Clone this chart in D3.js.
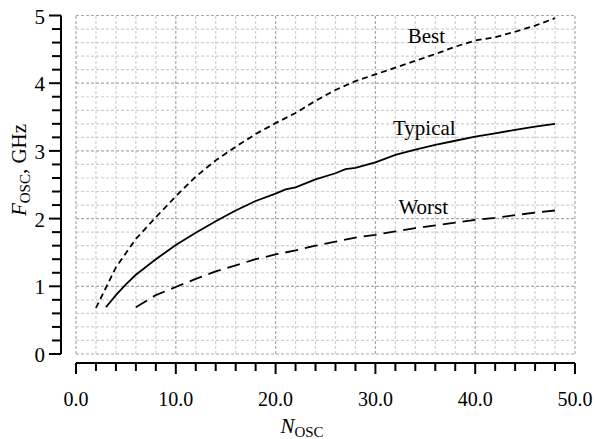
<!DOCTYPE html>
<html>
  <head>
    <script src="https://d3js.org/d3.v7.min.js"></script>
    <style>
      body { margin: 0; background: #fff; }
      text { font-family: "Liberation Serif", "DejaVu Serif", serif; fill: #000; }
    </style>
  </head>
  <body>
    <script>
      // N_osc values and F_osc (GHz)
      const bestN = [2, 4, 6, 8, 10, 12, 14, 16, 18, 20, 22, 24, 26, 28, 30, 32, 34, 36, 38, 40, 42, 44, 46, 48];
      const bestF = [0.68, 1.28, 1.70, 2.02, 2.33, 2.62, 2.86, 3.06, 3.25, 3.41, 3.56, 3.74, 3.90, 4.03, 4.13, 4.23, 4.33, 4.43, 4.54, 4.63, 4.68, 4.76, 4.85, 4.96];

      const typicalN = [3, 4, 5, 6, 8, 10, 12, 14, 16, 18, 20, 21, 22, 24, 26, 27, 28, 30, 32, 34, 36, 38, 40, 42, 44, 46, 48];
      const typicalF = [0.69, 0.87, 1.03, 1.17, 1.40, 1.61, 1.79, 1.96, 2.12, 2.26, 2.37, 2.43, 2.46, 2.58, 2.67, 2.73, 2.75, 2.83, 2.94, 3.02, 3.09, 3.15, 3.21, 3.26, 3.31, 3.36, 3.40];

      const worstN = [6, 8, 10, 12, 14, 16, 18, 20, 22, 24, 26, 28, 30, 32, 34, 36, 38, 40, 42, 44, 46, 48];
      const worstF = [0.69, 0.87, 0.99, 1.11, 1.22, 1.31, 1.40, 1.47, 1.53, 1.60, 1.66, 1.72, 1.76, 1.81, 1.86, 1.90, 1.94, 1.98, 2.01, 2.05, 2.09, 2.12];

      const xTicks = [0, 10, 20, 30, 40, 50];
      const yTicks = [0, 1, 2, 3, 4, 5];

      const seriesNames = ['Best', 'Typical', 'Worst'];
      const labelN = [35.1, 34.9, 34.8];
      const labelF = [4.6, 3.23, 2.07];

      const width = 595;
      const height = 439;

      const x = d3.scaleLinear().domain([0, 50]).range([76, 575]);
      const y = d3.scaleLinear().domain([0, 5]).range([354, 15.5]);

      const svg = d3.select('body')
        .append('svg')
        .attr('width', width)
        .attr('height', height);

      // grid: minor every 2 on x, every 0.2 on y
      const gx = d3.range(0, 50.001, 2);
      const gy = d3.range(0, 5.001, 0.2);

      svg.append('g').selectAll('line')
        .data(gx)
        .join('line')
        .attr('x1', d => x(d)).attr('x2', d => x(d))
        .attr('y1', y(0)).attr('y2', y(5))
        .attr('stroke', d => (Math.round(d) % 10 === 0) ? '#a8a8a8' : '#cfcfcf')
        .attr('stroke-width', 1.2)
        .attr('stroke-dasharray', '3,2');

      svg.append('g').selectAll('line')
        .data(gy)
        .join('line')
        .attr('x1', x(0)).attr('x2', x(50))
        .attr('y1', d => y(d)).attr('y2', d => y(d))
        .attr('stroke', d => (Math.abs(d - Math.round(d)) < 1e-6) ? '#a8a8a8' : '#cfcfcf')
        .attr('stroke-width', 1.2)
        .attr('stroke-dasharray', '3,2');

      // x axis (offset below plot)
      const xAxisY = 363;
      const xg = svg.append('g');
      xg.append('line')
        .attr('x1', x(0)).attr('x2', x(50))
        .attr('y1', xAxisY).attr('y2', xAxisY)
        .attr('stroke', '#000').attr('stroke-width', 2);
      xg.selectAll('.tk')
        .data(gx)
        .join('line')
        .attr('x1', d => x(d)).attr('x2', d => x(d))
        .attr('y1', xAxisY)
        .attr('y2', d => xAxisY + ((Math.round(d) % 10 === 0) ? 11 : 8))
        .attr('stroke', '#000').attr('stroke-width', 2);
      xg.selectAll('text')
        .data(xTicks)
        .join('text')
        .attr('x', d => x(d))
        .attr('y', 406)
        .attr('text-anchor', 'middle')
        .attr('font-size', 20)
        .text(d => d.toFixed(1));

      // y axis (offset left of plot)
      const yAxisX = 61;
      const yg = svg.append('g');
      yg.append('line')
        .attr('x1', yAxisX).attr('x2', yAxisX)
        .attr('y1', y(0)).attr('y2', y(5))
        .attr('stroke', '#000').attr('stroke-width', 2);
      yg.selectAll('.tk')
        .data(gy)
        .join('line')
        .attr('x1', yAxisX)
        .attr('x2', d => yAxisX - ((Math.abs(d - Math.round(d)) < 1e-6) ? 12 : 9))
        .attr('y1', d => y(d)).attr('y2', d => y(d))
        .attr('stroke', '#000').attr('stroke-width', 2);
      yg.selectAll('text')
        .data(yTicks)
        .join('text')
        .attr('x', 45)
        .attr('y', d => y(d) + 8)
        .attr('text-anchor', 'end')
        .attr('font-size', 21)
        .text(d => d);

      // axis titles
      const xt = svg.append('text')
        .attr('x', 302)
        .attr('y', 433)
        .attr('text-anchor', 'middle')
        .attr('font-size', 21);
      xt.append('tspan').attr('font-style', 'italic').text('N');
      xt.append('tspan').attr('font-size', 15).attr('dy', 4).text('OSC');

      const yt = svg.append('text')
        .attr('transform', 'translate(26,170) rotate(-90)')
        .attr('text-anchor', 'middle')
        .attr('font-size', 21);
      yt.append('tspan').attr('font-style', 'italic').text('F');
      yt.append('tspan').attr('font-size', 15).attr('dy', 4).text('OSC');
      yt.append('tspan').attr('dy', -4).text(', GHz');

      // curves
      const line = d3.line()
        .x(d => x(d[0]))
        .y(d => y(d[1]));

      const series = [
        { pts: d3.zip(bestN, bestF), dash: '6,4' },
        { pts: d3.zip(typicalN, typicalF), dash: null },
        { pts: d3.zip(worstN, worstF), dash: '13,7' }
      ];

      svg.append('g').selectAll('path')
        .data(series)
        .join('path')
        .attr('d', d => line(d.pts))
        .attr('fill', 'none')
        .attr('stroke', '#000')
        .attr('stroke-width', 1.8)
        .attr('stroke-dasharray', d => d.dash);

      svg.append('g').selectAll('text')
        .data(seriesNames)
        .join('text')
        .attr('x', (d, i) => x(labelN[i]))
        .attr('y', (d, i) => y(labelF[i]))
        .attr('text-anchor', 'middle')
        .attr('font-size', 21)
        .text(d => d);
    </script>
  </body>
</html>
